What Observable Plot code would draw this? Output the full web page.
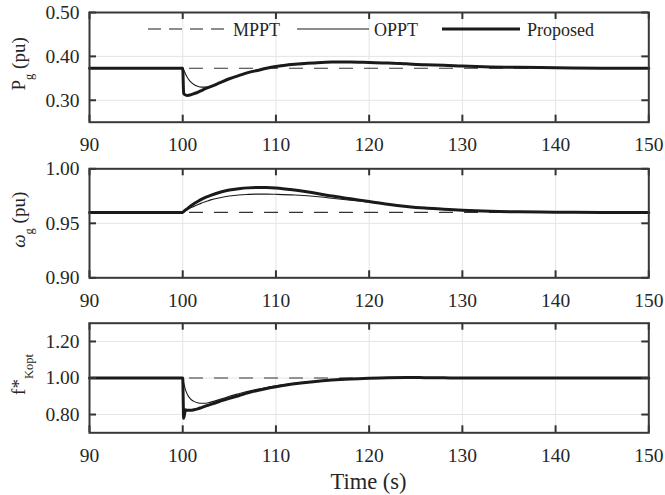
<!DOCTYPE html>
<html><head><meta charset="utf-8">
<script src="https://cdn.jsdelivr.net/npm/d3@7"></script>
<script src="https://cdn.jsdelivr.net/npm/@observablehq/plot@0.6"></script>
<style>
body{margin:0;background:#fff;}
#wrap{position:relative;width:665px;height:495px;}
#wrap svg{position:absolute;left:0;}
</style></head><body><div id="wrap"></div>
<script>
// ---- data ----
const xTicks = [90, 100, 110, 120, 130, 140, 150];
const time = [90, 100, 100.1, 100.3, 100.5, 100.8, 101.2, 101.6, 102, 102.5, 103, 104, 105, 106, 107, 108, 109, 110, 112, 114, 116, 118, 120, 122, 124, 126, 128, 130, 133, 136, 140, 145, 150];
const mpptTime = [90, 100, 110, 120, 130, 140, 150];

const pgTicks = [0.30, 0.40, 0.50];
const pgMPPT = [0.373, 0.373, 0.373, 0.373, 0.373, 0.373, 0.373];
const pgOPPT = [0.373, 0.373, 0.369, 0.360, 0.352, 0.343, 0.336, 0.332, 0.330, 0.330, 0.332, 0.340, 0.349, 0.357, 0.364, 0.369, 0.374, 0.378, 0.383, 0.386, 0.387, 0.387, 0.386, 0.385, 0.383, 0.381, 0.380, 0.378, 0.376, 0.375, 0.374, 0.373, 0.373];
const pgProposed = [0.373, 0.373, 0.316, 0.312, 0.311, 0.312, 0.315, 0.318, 0.322, 0.327, 0.331, 0.340, 0.349, 0.356, 0.363, 0.368, 0.373, 0.377, 0.382, 0.385, 0.387, 0.387, 0.386, 0.385, 0.383, 0.381, 0.380, 0.378, 0.376, 0.375, 0.374, 0.373, 0.373];

const wTicks = [0.90, 0.95, 1.00];
const wMPPT = [0.960, 0.960, 0.960, 0.960, 0.960, 0.960, 0.960];
const wOPPT = [0.960, 0.960, 0.9605, 0.9615, 0.9625, 0.964, 0.9655, 0.967, 0.9685, 0.970, 0.9715, 0.9735, 0.975, 0.976, 0.9765, 0.9768, 0.9768, 0.9766, 0.976, 0.9748, 0.973, 0.9712, 0.9695, 0.9672, 0.9655, 0.964, 0.963, 0.962, 0.961, 0.9605, 0.9602, 0.960, 0.960];
const wProposed = [0.960, 0.960, 0.9608, 0.9622, 0.9635, 0.9655, 0.968, 0.970, 0.972, 0.974, 0.9757, 0.9785, 0.9805, 0.9817, 0.9825, 0.9828, 0.9828, 0.9824, 0.9805, 0.978, 0.975, 0.9725, 0.970, 0.9675, 0.9655, 0.964, 0.963, 0.962, 0.961, 0.9605, 0.9602, 0.960, 0.960];

const fTicks = [0.80, 1.00, 1.20];
const fMPPT = [1.0, 1.0, 1.0, 1.0, 1.0, 1.0, 1.0];
const fOPPT = [1.0, 1.0, 0.975, 0.935, 0.910, 0.887, 0.872, 0.865, 0.862, 0.862, 0.868, 0.883, 0.900, 0.914, 0.927, 0.938, 0.948, 0.957, 0.971, 0.981, 0.989, 0.995, 0.999, 1.002, 1.003, 1.002, 1.001, 1.0, 1.0, 1.0, 1.0, 1.0, 1.0];
const fProposed = [1.0, 1.0, 0.780, 0.826, 0.823, 0.823, 0.826, 0.831, 0.838, 0.847, 0.856, 0.873, 0.889, 0.903, 0.919, 0.932, 0.943, 0.952, 0.968, 0.980, 0.989, 0.995, 0.999, 1.002, 1.003, 1.002, 1.001, 1.0, 1.0, 1.0, 1.0, 1.0, 1.0];

const seriesNames = ["MPPT", "OPPT", "Proposed"];

// ---- drawing ----
const FONT = "Liberation Serif";
const INK = "#262626";
const LINE = "#1a1a1a";
const wrap = document.getElementById("wrap");
const W = 665, ML = 89, MR = 16.7;

function rows(t, v) { return t.map((x, i) => ({t: x, v: v[i]})); }

function panel({top, height, mt, mb, yDomain, yTicks, mppt, oppt, proposed}) {
  const plotH = height - mt - mb;
  const plotW = W - ML - MR;
  const svg = Plot.plot({
    width: W, height,
    marginLeft: ML, marginRight: MR, marginTop: mt, marginBottom: mb,
    style: {background: "transparent", fontFamily: FONT, fontSize: "19px", color: INK, overflow: "visible"},
    x: {domain: [90, 150], label: null},
    y: {domain: yDomain, label: null},
    marks: [
      Plot.gridX(xTicks, {stroke: "#e4e4e4", strokeOpacity: 1, strokeWidth: 1}),
      Plot.gridY(yTicks, {stroke: "#e4e4e4", strokeOpacity: 1, strokeWidth: 1}),
      Plot.line(rows(mpptTime, mppt), {x: "t", y: "v", stroke: "#333", strokeWidth: 1.2, strokeDasharray: "13,12"}),
      Plot.line(rows(time, oppt), {x: "t", y: "v", stroke: LINE, strokeWidth: 1.1, curve: "monotone-x"}),
      Plot.line(rows(time, proposed), {x: "t", y: "v", stroke: LINE, strokeWidth: 3, curve: "monotone-x"}),
      Plot.tickX(xTicks, {stroke: "#333", strokeWidth: 2, insetTop: plotH - 7}),
      Plot.tickX(xTicks, {stroke: "#333", strokeWidth: 2, insetBottom: plotH - 7}),
      Plot.tickY(yTicks, {stroke: "#333", strokeWidth: 2, insetRight: plotW - 7}),
      Plot.tickY(yTicks, {stroke: "#333", strokeWidth: 2, insetLeft: plotW - 7}),
      Plot.frame({stroke: "#383838", strokeWidth: 2}),
      Plot.axisX(xTicks, {tickSize: 0, tickPadding: 15, fontSize: 19.5, tickFormat: d => String(d), label: null}),
      Plot.axisY(yTicks, {tickSize: 0, tickPadding: 10, fontSize: 19.5, tickFormat: d => d.toFixed(2), label: null})
    ]
  });
  svg.style.top = top + "px";
  wrap.appendChild(svg);
  return {svg: d3.select(svg), mt, plotH};
}

function ylabel(p, parts) {
  const cy = p.mt + p.plotH / 2;
  const t = p.svg.append("text")
    .attr("transform", `translate(25,${cy - 3}) rotate(-90)`)
    .attr("text-anchor", "middle")
    .attr("fill", INK)
    .attr("font-family", FONT)
    .attr("font-size", 19);
  for (const part of parts) {
    const s = t.append("tspan").text(part.text);
    if (part.dy) s.attr("dy", part.dy);
    if (part.small) s.attr("font-size", 12.5);
    if (part.italic) s.attr("font-style", "italic");
  }
}

const p1 = panel({top: 0, height: 160, mt: 12, mb: 38.3, yDomain: [0.25, 0.50], yTicks: pgTicks, mppt: pgMPPT, oppt: pgOPPT, proposed: pgProposed});
const p2 = panel({top: 160, height: 155, mt: 8.3, mb: 37.7, yDomain: [0.90, 1.00], yTicks: wTicks, mppt: wMPPT, oppt: wOPPT, proposed: wProposed});
const p3 = panel({top: 315, height: 180, mt: 7.7, mb: 62.7, yDomain: [0.70, 1.30], yTicks: fTicks, mppt: fMPPT, oppt: fOPPT, proposed: fProposed});

ylabel(p1, [{text: "P"}, {text: "g", dy: 8, small: true}, {text: "\u00a0(pu)", dy: -8}]);
ylabel(p2, [{text: "ω", italic: true}, {text: "g", dy: 8, small: true}, {text: "\u00a0(pu)", dy: -8}]);
ylabel(p3, [{text: "f*"}, {text: "Kopt", dy: 8, small: true}]);

// legend (inside top panel)
const lg = p1.svg.append("g").attr("fill", INK);
const legendItems = [
  {name: seriesNames[0], x1: 148, x2: 229, tx: 233, w: 1.2, dash: "13,8"},
  {name: seriesNames[1], x1: 297, x2: 369, tx: 374, w: 1.1, dash: null},
  {name: seriesNames[2], x1: 442, x2: 520, tx: 527, w: 3, dash: null}
];
for (const it of legendItems) {
  const l = lg.append("line").attr("x1", it.x1).attr("x2", it.x2).attr("y1", 29).attr("y2", 29)
    .attr("stroke", LINE).attr("stroke-width", it.w);
  if (it.dash) l.attr("stroke-dasharray", it.dash);
  lg.append("text").attr("x", it.tx).attr("y", 35.5).attr("text-anchor", "start")
    .attr("font-family", FONT).attr("font-size", 18).text(it.name);
}

// x axis title
p3.svg.append("text").attr("x", 368.5).attr("y", 173.5).attr("text-anchor", "middle")
  .attr("fill", INK).attr("font-family", FONT).attr("font-size", 22.5).text("Time (s)");
</script></body></html>
